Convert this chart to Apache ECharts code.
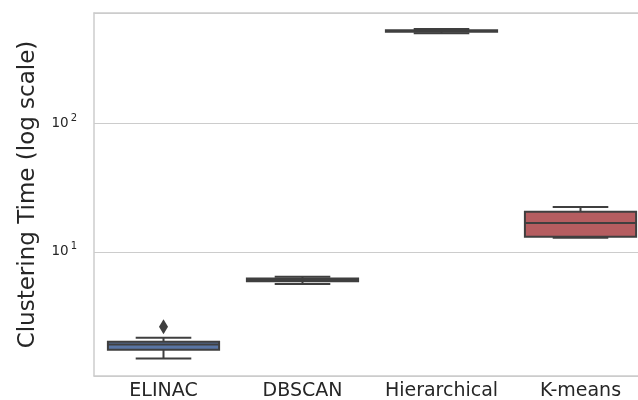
<!DOCTYPE html>
<html>
<head>
<meta charset="utf-8">
<script src="https://cdn.jsdelivr.net/npm/echarts@6/dist/echarts.min.js"></script>
<style>
html,body{margin:0;padding:0;background:#fff;}
#chart{width:638px;height:400px;}
</style>
</head>
<body>
<div id="chart"></div>
<script>
const categories = ['ELINAC', 'DBSCAN', 'Hierarchical', 'K-means'];
const whiskerLow  = [1.47, 5.60, 508, 12.85];
const q1          = [1.72, 5.88, 521, 13.1];
const median      = [1.89, 6.03, 529, 16.8];
const q3          = [1.99, 6.18, 536, 20.5];
const whiskerHigh = [2.13, 6.40, 549, 22.4];
const outliers    = [[0, 2.60]];
const boxColors   = ['#5975a4', '#cc8963', '#5f9e6e', '#b55d60'];
const yTicks      = [10, 100];
const yMin = 1.073, yMax = 731;

const lineColor = '#3f3f3f';
const boxData = categories.map((c, i) => [i, whiskerLow[i], q1[i], median[i], q3[i], whiskerHigh[i]]);

function renderItem(params, api) {
  const i = api.value(0);
  const vLo = api.value(1), vQ1 = api.value(2), vMed = api.value(3), vQ3 = api.value(4), vHi = api.value(5);
  const p0 = api.coord([0, vMed]);
  const p1 = api.coord([1, vMed]);
  const band = Math.abs(p1[0] - p0[0]);
  const half = band * 0.4;
  const capHalf = band * 0.2;
  const x = api.coord([i, vMed])[0];
  const yLo = api.coord([i, vLo])[1];
  const yQ1 = api.coord([i, vQ1])[1];
  const yMed = api.coord([i, vMed])[1];
  const yQ3 = api.coord([i, vQ3])[1];
  const yHi = api.coord([i, vHi])[1];
  const ls = {stroke: lineColor, lineWidth: 2};
  return {
    type: 'group',
    children: [
      {type: 'line', shape: {x1: x, y1: yQ1, x2: x, y2: yLo}, style: ls},
      {type: 'line', shape: {x1: x, y1: yQ3, x2: x, y2: yHi}, style: ls},
      {type: 'line', shape: {x1: x - capHalf, y1: yLo, x2: x + capHalf, y2: yLo}, style: ls},
      {type: 'line', shape: {x1: x - capHalf, y1: yHi, x2: x + capHalf, y2: yHi}, style: ls},
      {type: 'rect', shape: {x: x - half, y: yQ3, width: half * 2, height: Math.max(yQ1 - yQ3, 0.5)},
        style: {fill: boxColors[i], stroke: lineColor, lineWidth: 2}},
      {type: 'line', shape: {x1: x - half, y1: yMed, x2: x + half, y2: yMed}, style: ls}
    ]
  };
}

const chart = echarts.init(document.getElementById('chart'));
chart.setOption({
  animation: false,
  grid: {left: 94, top: 13, bottom: 24, width: 556, containLabel: false, outerBoundsMode: 'none'},
  xAxis: [{
    type: 'category',
    data: categories,
    boundaryGap: true,
    axisLine: {show: true, lineStyle: {color: '#cccccc', width: 1.5}},
    axisTick: {show: false},
    splitLine: {show: false},
    axisLabel: {color: '#262626', fontSize: 19, fontFamily: 'DejaVu Sans', margin: 6, interval: 0, hideOverlap: false}
  }, {
    type: 'category',
    data: categories,
    position: 'top',
    axisLine: {show: true, lineStyle: {color: '#cccccc', width: 1.5}},
    axisTick: {show: false},
    axisLabel: {show: false},
    splitLine: {show: false}
  }],
  yAxis: {
    type: 'log',
    logBase: 10,
    min: yMin,
    max: yMax,
    name: 'Clustering Time (log scale)',
    nameLocation: 'middle',
    nameGap: 54,
    nameTextStyle: {color: '#262626', fontSize: 23, fontFamily: 'DejaVu Sans'},
    axisLine: {show: true, lineStyle: {color: '#cccccc', width: 1.5}},
    axisTick: {show: false},
    splitLine: {show: true, lineStyle: {color: '#cccccc', width: 1.2}},
    axisLabel: {
      showMinLabel: false,
      showMaxLabel: false,
      margin: 17,
      formatter: function (v) {
        const e = Math.log10(v);
        if (Math.abs(e - Math.round(e)) > 1e-6 || yTicks.indexOf(Math.round(v)) < 0) return '';
        return '{b|10}{s|' + Math.round(e) + '}';
      },
      rich: {
        b: {fontSize: 13.5, color: '#262626', fontFamily: 'DejaVu Sans'},
        s: {fontSize: 10, color: '#262626', fontFamily: 'DejaVu Sans', padding: [0, 0, 10, 2]}
      }
    }
  },
  series: [{
    type: 'custom',
    renderItem: renderItem,
    data: boxData,
    encode: {x: 0, y: [1, 2, 3, 4, 5]},
    z: 3
  }, {
    type: 'scatter',
    data: outliers,
    symbol: 'diamond',
    symbolSize: [9, 15],
    itemStyle: {color: lineColor, opacity: 1},
    z: 4
  }]
});
</script>
</body>
</html>
